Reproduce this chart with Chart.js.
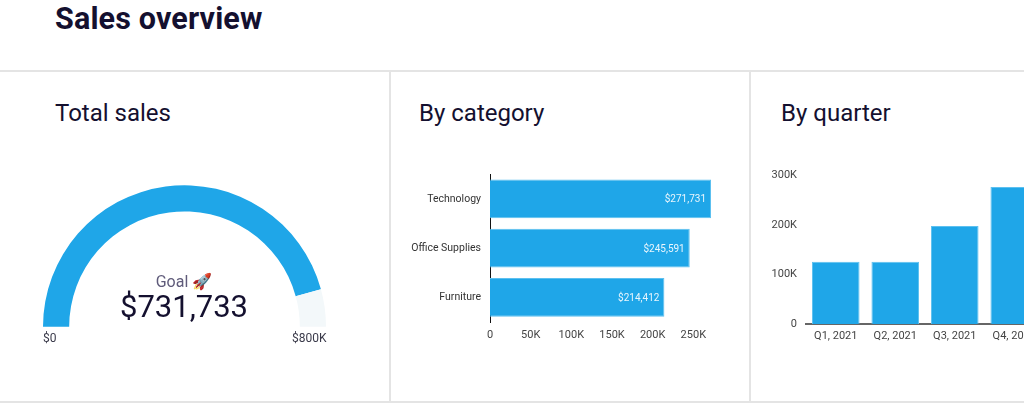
<!DOCTYPE html>
<html>
<head>
<meta charset="utf-8">
<script src="https://cdn.jsdelivr.net/npm/chart.js@4.4.1/dist/chart.umd.min.js"></script>
<style>
  html, body { margin:0; padding:0; background:#fff; overflow:hidden; width:1024px; height:403px; font-family: Roboto, "Noto Sans", sans-serif; color:#14102f; }
  .abs { position:absolute; }
  #title { left:55px; top:1px; font-size:30.5px; font-weight:700; letter-spacing:0.15px; }
  .hline { position:absolute; left:0; width:1024px; height:2px; background:#e4e4e4; }
  .vline { position:absolute; top:71px; width:2px; height:332px; background:#e4e4e4; }
  .ptitle { position:absolute; top:99px; font-size:24px; font-weight:400; }
  #goal { left:84px; width:200px; top:272px; text-align:center; font-size:16px; color:#5f5b7a; }
  #value { left:64px; width:240px; top:288px; text-align:center; font-size:31px; font-weight:400; }
  .gl { position:absolute; top:331px; font-size:12px; color:#3a3a4a; }
</style>
</head>
<body>
<div id="title" class="abs">Sales overview</div>
<div class="hline" style="top:70px"></div>
<div class="hline" style="top:401px"></div>
<div class="vline" style="left:389px"></div>
<div class="vline" style="left:749px"></div>

<div class="ptitle" style="left:55px">Total sales</div>
<div class="ptitle" style="left:419px">By category</div>
<div class="ptitle" style="left:781px">By quarter</div>

<canvas id="gauge" class="abs" width="283" height="142" style="left:43px;top:185px"></canvas>
<div id="goal" class="abs">Goal 🚀</div>
<div id="value" class="abs">$731,733</div>
<div class="gl" style="left:43px">$0</div>
<div class="gl" style="left:292px">$800K</div>

<canvas id="cat" class="abs" width="330" height="189" style="left:400px;top:159px"></canvas>
<canvas id="qtr" class="abs" width="310" height="188" style="left:751px;top:160px"></canvas>

<script>
const totalSales = 731733;
const goalValue = 800000;

const categories = ["Technology", "Office Supplies", "Furniture"];
const categorySales = [271731, 245591, 214412];
const categoryTicks = ["0", "50K", "100K", "150K", "200K", "250K"];

const quarters = ["Q1, 2021", "Q2, 2021", "Q3, 2021", "Q4, 2021"];
const quarterSales = [126000, 126000, 198000, 277000];
const quarterTicks = ["0", "100K", "200K", "300K"];

const BLUE = "#1fa6e8";
const BLUE_EDGE = "#5cc0f0";
const TICK = "#444";

Chart.defaults.font.family = "Roboto, 'Noto Sans', sans-serif";
Chart.defaults.animation = false;
Chart.defaults.devicePixelRatio = 1;

new Chart(document.getElementById("gauge"), {
  type: "doughnut",
  data: {
    labels: ["Sales", "Remaining"],
    datasets: [{
      data: [totalSales, goalValue - totalSales],
      backgroundColor: [BLUE, "#f3f8fa"],
      borderWidth: 0
    }]
  },
  options: {
    responsive: false,
    maintainAspectRatio: false,
    rotation: -90,
    circumference: 180,
    cutout: "81.5%",
    layout: { padding: 0 },
    plugins: { legend: { display: false }, tooltip: { enabled: false } }
  }
});

const barLabels = {
  id: "barLabels",
  afterDatasetsDraw(chart) {
    const ctx = chart.ctx;
    const meta = chart.getDatasetMeta(0);
    ctx.save();
    ctx.font = "10px Roboto, 'Noto Sans', sans-serif";
    ctx.fillStyle = "#eaf6fd";
    ctx.textAlign = "right";
    ctx.textBaseline = "middle";
    meta.data.forEach((bar, i) => {
      const v = chart.data.datasets[0].data[i];
      ctx.fillText("$" + v.toLocaleString("en-US"), bar.x - 5, bar.y + 1);
    });
    ctx.restore();
  }
};

new Chart(document.getElementById("cat"), {
  type: "bar",
  data: {
    labels: categories,
    datasets: [{
      data: categorySales,
      backgroundColor: BLUE,
      borderColor: BLUE_EDGE,
      borderWidth: 1,
      barPercentage: 0.79,
      categoryPercentage: 1
    }]
  },
  options: {
    responsive: false,
    maintainAspectRatio: false,
    indexAxis: "y",
    layout: { padding: { top: 0, right: 19, left: 0, bottom: 0 } },
    plugins: { legend: { display: false }, tooltip: { enabled: false } },
    scales: {
      x: {
        min: 0,
        max: Math.max(...categorySales),
        grid: { display: false, drawTicks: false },
        border: { display: false },
        afterFit(s) { s.height = 26; },
        afterBuildTicks(s) {
          s.ticks = categoryTicks.map((t, i) => ({ value: i * 50000 }));
        },
        ticks: {
          padding: 7,
          maxRotation: 0,
          autoSkip: false,
          color: TICK,
          font: { size: 11 },
          callback(v, i) { return categoryTicks[i]; }
        }
      },
      y: {
        grid: { display: false, drawTicks: false },
        border: { display: true, color: "#111", width: 1 },
        afterFit(s) { s.width = 90; },
        ticks: { padding: 9, color: "#333", font: { size: 10.5 } }
      }
    }
  },
  plugins: [barLabels]
});

new Chart(document.getElementById("qtr"), {
  type: "bar",
  data: {
    labels: quarters,
    datasets: [{
      data: quarterSales,
      backgroundColor: BLUE,
      borderColor: BLUE_EDGE,
      borderWidth: 1,
      barPercentage: 0.8,
      categoryPercentage: 1
    }]
  },
  options: {
    responsive: false,
    maintainAspectRatio: false,
    layout: { padding: { top: 0, right: 17, left: 0, bottom: 0 } },
    plugins: { legend: { display: false }, tooltip: { enabled: false } },
    scales: {
      x: {
        grid: { display: false, drawTicks: false },
        border: { display: true, color: "#666", width: 2 },
        afterFit(s) { s.height = 24; },
        ticks: { padding: 6, maxRotation: 0, autoSkip: false, color: TICK, font: { size: 11 } }
      },
      y: {
        min: 0,
        max: 300000,
        grid: { display: false, drawTicks: false },
        border: { display: false },
        afterFit(s) { s.width = 55; },
        ticks: {
          stepSize: 100000,
          padding: 9,
          color: TICK,
          font: { size: 11 },
          callback(v) { return quarterTicks[Math.round(v / 100000)]; }
        }
      }
    }
  }
});
</script>
</body>
</html>
